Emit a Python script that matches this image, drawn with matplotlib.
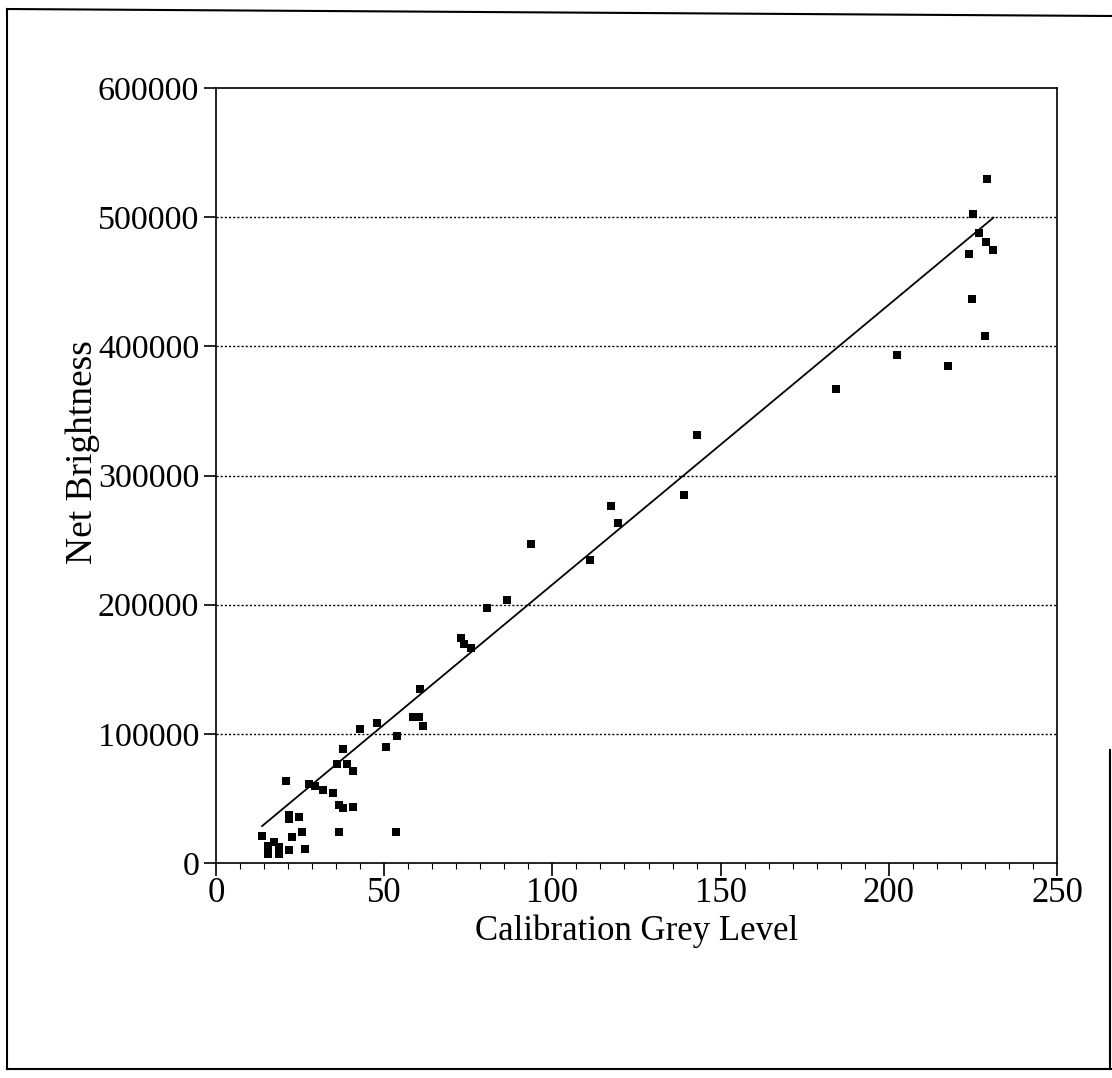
import numpy as np
import matplotlib
matplotlib.use("Agg")
import matplotlib.pyplot as plt
from matplotlib.lines import Line2D
from matplotlib.ticker import MultipleLocator

plt.rcParams['font.family'] = ['Liberation Serif', 'DejaVu Serif']

grey_level = [13.8, 15.6, 17.2, 18.7, 15.6, 18.8, 21.7, 26.6, 22.6, 25.6,
              36.6, 21.8, 21.8, 24.8, 36.7, 37.9, 40.6, 20.8, 27.7, 29.5,
              31.7, 34.7, 35.9, 38.9, 40.6, 37.9, 42.8, 47.8, 50.6, 53.7,
              53.5, 58.7, 60.4, 61.6, 60.7, 72.7, 73.7, 75.7, 80.6, 86.6,
              93.6, 111.3, 117.4, 119.4, 139.2, 143.1, 184.3, 202.5, 217.5, 223.8,
              224.6, 225.0, 226.9, 228.9, 228.6, 229.2, 230.9]
net_brightness = [20800, 13500, 16200, 12500, 6800, 6800, 9800, 11000, 20100, 24200,
                  24200, 37200, 34200, 35600, 44600, 42300, 43000, 63300, 61300, 59600,
                  56200, 54400, 76400, 76600, 71400, 88300, 103400, 108400, 89800, 98500,
                  24200, 113300, 112700, 106000, 134700, 174400, 169800, 166200, 197600, 203300,
                  246700, 234800, 276100, 263400, 284600, 331400, 366700, 393300, 385000, 471500,
                  436900, 502500, 488000, 481000, 408300, 529400, 474600]

# trendline (end points)
trend_x = [13.7, 231.1]
trend_y = [28600, 499600]

x_ticks = [0, 50, 100, 150, 200, 250]
y_ticks = [0, 100000, 200000, 300000, 400000, 500000, 600000]
x_label = "Calibration Grey Level"
y_label = "Net Brightness"

W, H = 1112, 1078
fig = plt.figure(figsize=(W / 100, H / 100), dpi=100)
ax = fig.add_axes([216 / W, 1 - 863 / H, (1057 - 216) / W, (863 - 88) / H])

ax.scatter(grey_level, net_brightness, marker='s', s=30, color='black',
           zorder=3, linewidths=0)
ax.plot(trend_x, trend_y, color='black', lw=1.3, zorder=2)

ax.set_xlim(0, 250)
ax.set_ylim(0, 600000)
ax.set_xticks(x_ticks)
ax.set_yticks(y_ticks)
ax.set_xticklabels([str(t) for t in x_ticks], fontsize=25)
ax.set_yticklabels([str(t) for t in y_ticks], fontsize=24.5)
ax.xaxis.set_minor_locator(MultipleLocator(50 / 7))
ax.tick_params(axis='x', which='major', direction='out', length=9, width=1.2, pad=1)
ax.tick_params(axis='y', which='major', direction='out', length=9, width=1.2, pad=3)
ax.tick_params(axis='x', which='minor', direction='out', length=4, width=0.8)

for gy in y_ticks[1:-1]:
    ax.axhline(gy, color='black', lw=1.0, ls=(0, (1.5, 1.5)), zorder=1)

for s in ax.spines.values():
    s.set_linewidth(1.2)
    s.set_color('black')

ax.set_xlabel(x_label, fontsize=25, labelpad=3)
ax.set_ylabel(y_label, fontsize=27)
ax.yaxis.set_label_coords(-0.138, 0.53)

# outer frame
def fl(x0, y0, x1, y1, lw=1.5):
    fig.add_artist(Line2D([x0 / W, x1 / W], [1 - y0 / H, 1 - y1 / H],
                          color='black', lw=lw, transform=fig.transFigure))

fl(7, 9, 1112, 16)
fl(7, 9, 7, 1069)
fl(7, 1069, 1112, 1069)
fl(1110, 750, 1110, 1069)

fig.savefig("out.png", dpi=100, facecolor='white')
